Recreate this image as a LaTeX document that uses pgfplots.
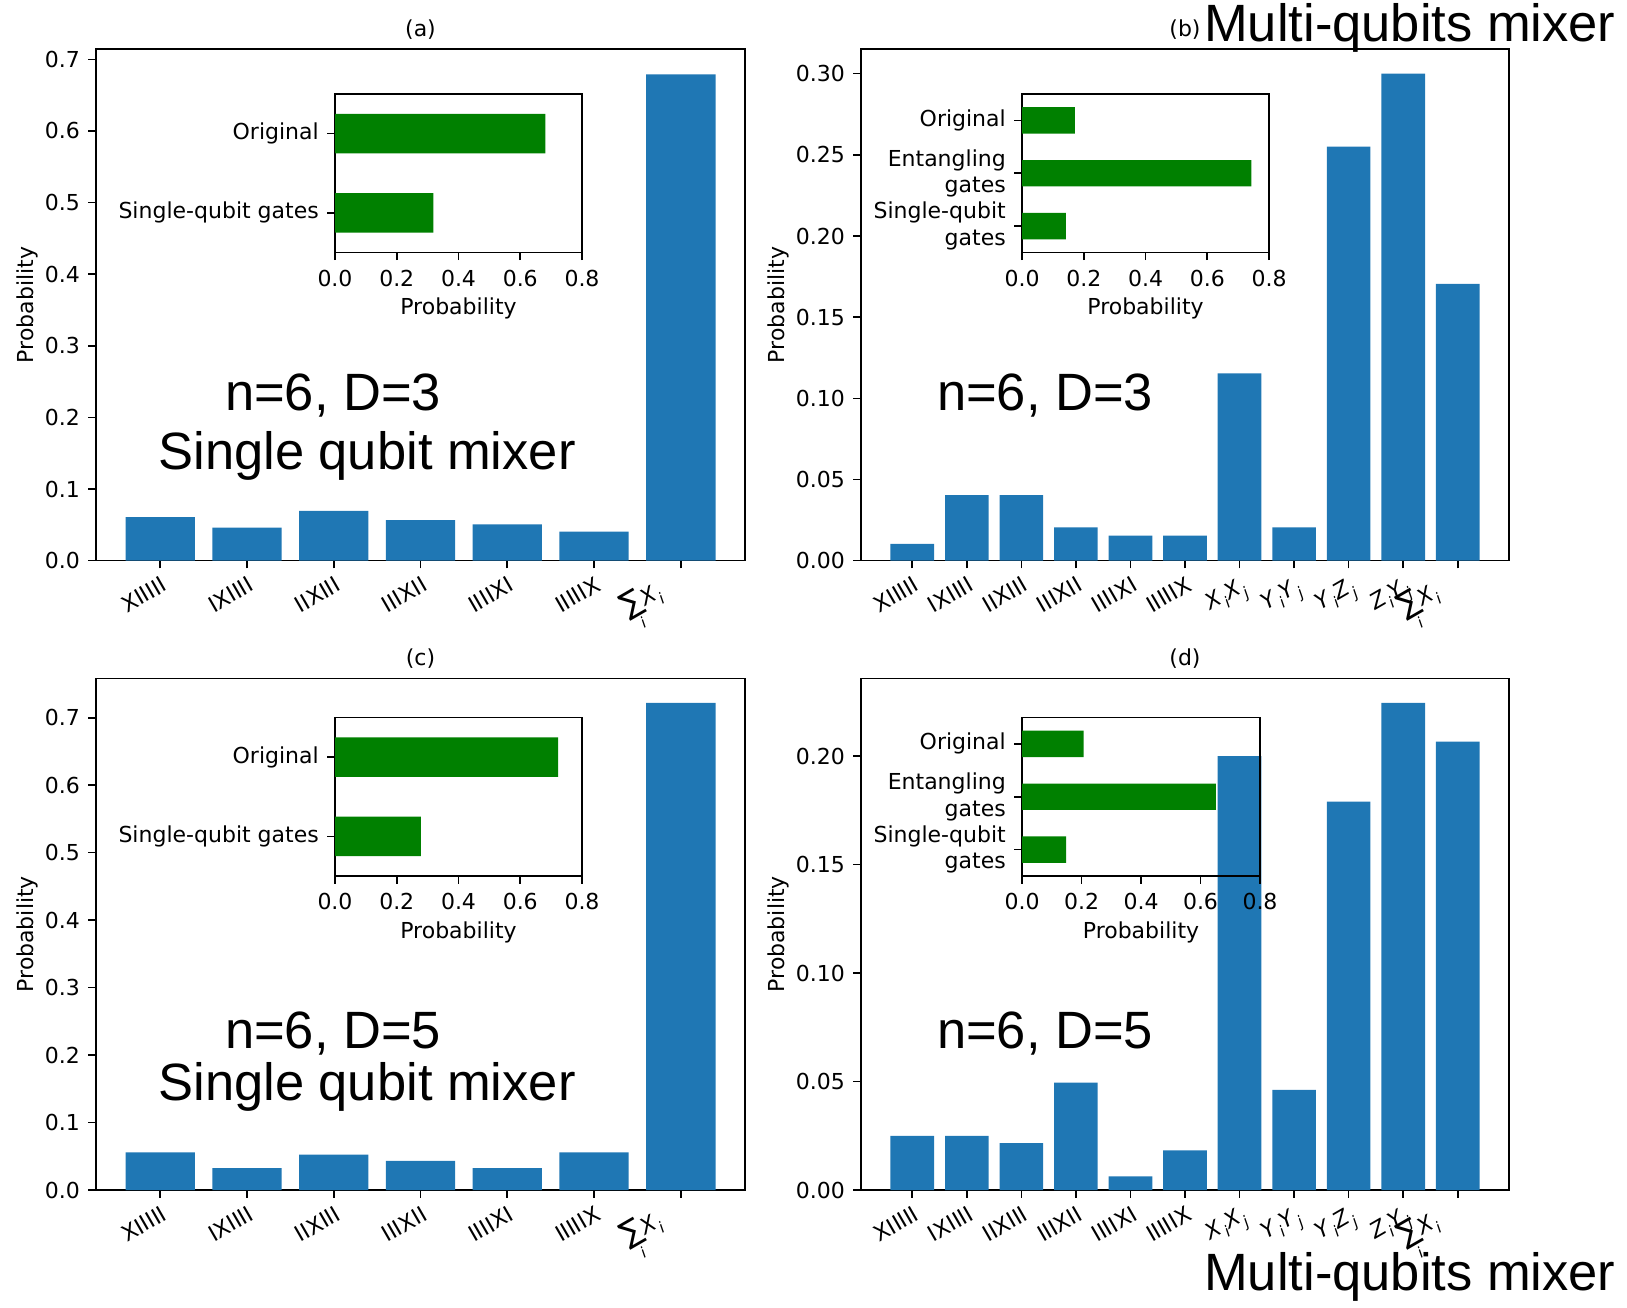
\documentclass[border=0pt]{standalone}
\usepackage{fontspec}
\setmainfont{DejaVu Sans}
\newfontfamily\bigf{Liberation Sans}
\usepackage{graphicx}
\usepackage{pgfplots}
\pgfplotsset{compat=1.18}
\definecolor{mplblue}{HTML}{1F77B4}
\definecolor{mplgreen}{HTML}{008000}
\newcommand\tfont{\fontsize{22}{26.4}\selectfont}
\newcommand\bigtext{\bigf\fontsize{52.5}{60}\selectfont}
\newcommand\lsub[1]{\kern0.5pt\raisebox{-0.3em}{\fontsize{15.4}{15.4}\selectfont\itshape #1}\kern1pt}
\newcommand\sumX{\raisebox{8pt}[0.75em][0.25em]{$\mathop{\hbox{\fontsize{30}{30}\selectfont ∑}}\limits_{\hbox{\fontsize{15}{15}\selectfont\itshape i}}$\textit{X}\lsub{i}}\kern25pt}
\pgfplotsset{
  every axis title/.style={at={(0.5,1)}, anchor=base, yshift=13.2pt, font=\tfont},
  mpl/.style={
    scale only axis, anchor=south west,
    axis line style={line width=1.6pt},
    tick style={line width=1.6pt, black},
    tick align=outside, major tick length=7.7pt,
    tick pos=left,
    tick label style={font=\tfont},
    label style={font=\tfont},
    yticklabel style={xshift=-5pt},
    scaled ticks=false,
    /pgf/number format/assume math mode=true,
  },
  mainA/.style={mpl, width=649pt, height=511.4pt,
    xmin=-0.74, xmax=6.74, ymin=0,
    xtick={0,1,2,3,4,5,6},
    xticklabels={XIIIII,IXIIII,IIXIII,IIIXII,IIIIXI,IIIIIX,\sumX},
    xticklabel style={rotate=30, anchor=north east, yshift=-3pt},
    ytick={0,0.1,0.2,0.3,0.4,0.5,0.6,0.7},
    yticklabel style={/pgf/number format/.cd,fixed,fixed zerofill,precision=1},
    ylabel={Probability}},
  mainB/.style={mpl, width=648pt, height=511.4pt,
    xmin=-0.94, xmax=10.94, ymin=0,
    xtick={0,1,2,3,4,5,6,7,8,9,10},
    xticklabels={XIIIII,IXIIII,IIXIII,IIIXII,IIIIXI,IIIIIX,
      \textit{X}\lsub{i}\textit{X}\lsub{j},
      \textit{Y}\lsub{i}\textit{Y}\lsub{j},
      \textit{Y}\lsub{i}\textit{Z}\lsub{j},
      \textit{Z}\lsub{i}\textit{Y}\lsub{j},\sumX},
    xticklabel style={rotate=30, anchor=north east, yshift=-3pt},
    yticklabel style={/pgf/number format/.cd,fixed,fixed zerofill,precision=2},
    ylabel={Probability}},
  insetbase/.style={mpl, height=158.5pt,
    xmin=0, xmax=0.8, xtick={0,0.2,0.4,0.6,0.8},
    xticklabel style={yshift=-6pt, /pgf/number format/.cd,fixed,fixed zerofill,precision=1},
    xlabel={Probability},
    xlabel style={yshift=-5pt}},
  inset2/.style={insetbase, ymin=-0.5, ymax=1.5, ytick={0,1},
    yticklabels={Single-qubit gates,Original}},
  inset3/.style={insetbase, ymin=-0.5, ymax=2.5, ytick={0,1,2},
    yticklabels={{Single-qubit\\gates},{Entangling\\gates},Original},
    yticklabel style={align=right}},
}
\begin{document}
\begin{tikzpicture}
\useasboundingbox (0,0) rectangle (1627pt,1307pt);

% (a)
\begin{axis}[mainA, at={(96pt,746.3pt)}, ymax=0.714, title={(a)}]
\addplot[ybar, bar width=0.8, fill=mplblue, draw=none] coordinates
  {(0,0.061) (1,0.046) (2,0.0697) (3,0.0566) (4,0.0508) (5,0.0406) (6,0.679)};
\end{axis}
\begin{axis}[inset2, at={(335pt,1054.5pt)}, width=247pt]
\addplot[xbar, bar width=0.5, fill=mplgreen, draw=none] coordinates
  {(0.319,0) (0.681,1)};
\end{axis}

% (b)
\begin{axis}[mainB, at={(861pt,746.3pt)}, ymax=0.315,
  ytick={0,0.05,0.10,0.15,0.20,0.25,0.30}, title={(b)}]
\addplot[ybar, bar width=0.8, fill=mplblue, draw=none] coordinates
  {(0,0.0103) (1,0.0404) (2,0.0404) (3,0.0205) (4,0.0154) (5,0.0154)
   (6,0.1154) (7,0.0205) (8,0.2551) (9,0.30) (10,0.1705)};
\end{axis}
\begin{axis}[inset3, at={(1022pt,1054.5pt)}, width=247pt]
\addplot[xbar, bar width=0.5, fill=mplgreen, draw=none] coordinates
  {(0.142,0) (0.743,1) (0.171,2)};
\end{axis}

% (c)
\begin{axis}[mainA, at={(96pt,117pt)}, ymax=0.758, title={(c)}]
\addplot[ybar, bar width=0.8, fill=mplblue, draw=none] coordinates
  {(0,0.0556) (1,0.0325) (2,0.0525) (3,0.0433) (4,0.0325) (5,0.0556) (6,0.722)};
\end{axis}
\begin{axis}[inset2, at={(335pt,431pt)}, width=247pt]
\addplot[xbar, bar width=0.5, fill=mplgreen, draw=none] coordinates
  {(0.278,0) (0.723,1)};
\end{axis}

% (d)
\begin{axis}[mainB, at={(861pt,117pt)}, ymax=0.2357,
  ytick={0,0.05,0.10,0.15,0.20}, title={(d)}]
\addplot[ybar, bar width=0.8, fill=mplblue, draw=none] coordinates
  {(0,0.025) (1,0.025) (2,0.0216) (3,0.0495) (4,0.0063) (5,0.0183)
   (6,0.20) (7,0.0462) (8,0.179) (9,0.2245) (10,0.2067)};
\end{axis}
\begin{axis}[inset3, at={(1022pt,431pt)}, width=238pt]
\addplot[xbar, bar width=0.5, fill=mplgreen, draw=none] coordinates
  {(0.148,0) (0.652,1) (0.207,2)};
\end{axis}

% big annotations
\node[anchor=base, inner sep=0pt] at (333pt,896pt) {\bigtext n=6, D=3};
\node[anchor=base, inner sep=0pt] at (367pt,837pt) {\bigtext Single qubit mixer};
\node[anchor=base, inner sep=0pt] at (1045pt,896pt) {\bigtext n=6, D=3};
\node[anchor=base, inner sep=0pt] at (333pt,259pt) {\bigtext n=6, D=5};
\node[anchor=base, inner sep=0pt] at (367pt,207pt) {\bigtext Single qubit mixer};
\node[anchor=base, inner sep=0pt] at (1045pt,259pt) {\bigtext n=6, D=5};
\node[anchor=base west, inner sep=0pt] at (1204pt,1265pt) {\bigtext Multi-qubits mixer};
\node[anchor=base west, inner sep=0pt] at (1204pt,17pt) {\bigtext Multi-qubits mixer};
\end{tikzpicture}
\end{document}
